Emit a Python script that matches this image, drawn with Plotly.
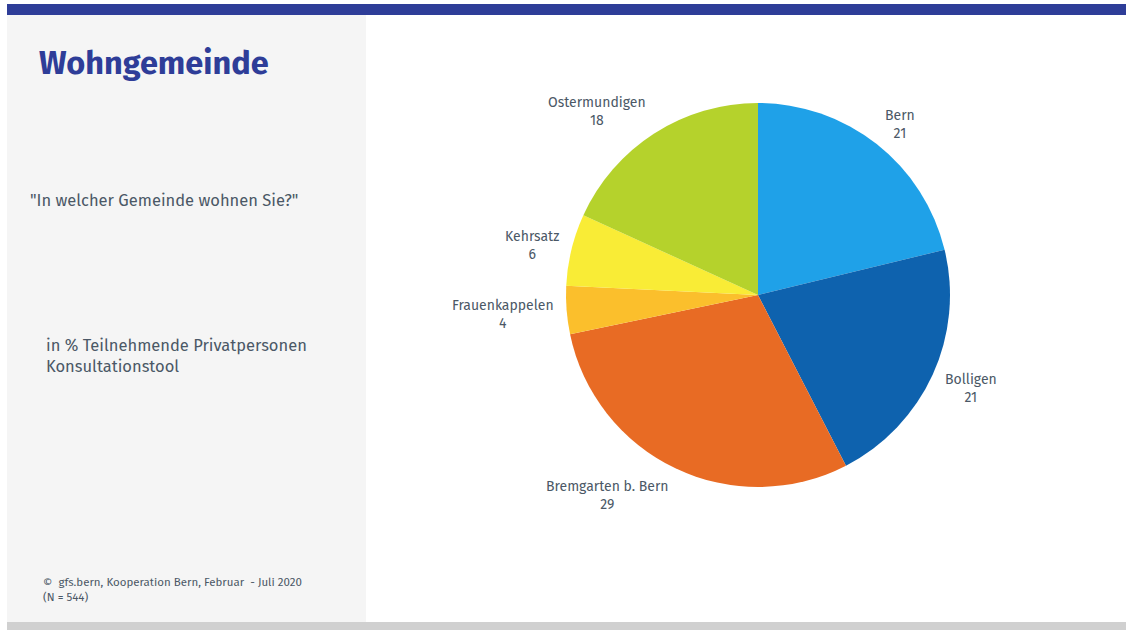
import math
import plotly.graph_objects as go

# Share of participants by municipality (in %)
municipalities = ["Bern", "Bolligen", "Bremgarten b. Bern", "Frauenkappelen", "Kehrsatz", "Ostermundigen"]
shares = [21, 21, 29, 4, 6, 18]
slice_colors = ["#1FA1E8", "#0E62AE", "#E86B24", "#FBBF2C", "#F9EC36", "#B5D22C"]

W, H = 1126, 630
FONT = "Fira Sans, Noto Sans, Roboto, sans-serif"
TEXT_GREY = "#4B5866"

cx, cy, r = 758, 295, 192      # pie centre and radius in pixels
label_dist = 203               # distance of the label anchor from the centre
label_half_h = 17              # half height of a two-line label

fig = go.Figure(go.Pie(
    labels=municipalities,
    values=shares,
    sort=False,
    direction="clockwise",
    rotation=0,
    marker=dict(colors=slice_colors, line=dict(width=0)),
    textinfo="none",
    showlegend=False,
    hoverinfo="label+value",
    domain=dict(x=[(cx - r) / W, (cx + r) / W], y=[1 - (cy + r) / H, 1 - (cy - r) / H]),
))

shapes = [
    # top band
    dict(type="rect", xref="paper", yref="paper", x0=7 / W, x1=1, y0=1 - 15 / H, y1=1 - 4 / H,
         fillcolor="#2E3D98", line=dict(width=0), layer="below"),
    # left side panel
    dict(type="rect", xref="paper", yref="paper", x0=7 / W, x1=366 / W, y0=1 - 622 / H, y1=1 - 15 / H,
         fillcolor="#F5F5F5", line=dict(width=0), layer="below"),
    # bottom band
    dict(type="rect", xref="paper", yref="paper", x0=7 / W, x1=1, y0=0, y1=1 - 622 / H,
         fillcolor="#D0D0D0", line=dict(width=0), layer="below"),
]

def note(x, y, text, size, color=TEXT_GREY, bold=False):
    return dict(xref="paper", yref="paper", x=x / W, y=1 - y / H, xanchor="left", yanchor="middle",
                text=f"<b>{text}</b>" if bold else text, showarrow=False, align="left",
                font=dict(family=FONT, size=size, color=color))

annotations = [
    note(37, 64, "Wohngemeinde", 32.5, color="#2E3D98", bold=True),
    note(28, 200, "\"In welcher Gemeinde wohnen Sie?\"", 16.5),
    note(44, 356, "in % Teilnehmende Privatpersonen<br>Konsultationstool", 16.5),
    note(41, 589, "©  gfs.bern, Kooperation Bern, Februar  - Juli 2020<br>(N = 544)", 11.5),
]

# Outside slice labels, placed at the mid-angle of each slice
total = sum(shares)
cum = 0
for name, val in zip(municipalities, shares):
    theta = (cum + val / 2) / total * 2 * math.pi   # clockwise from 12 o'clock
    cum += val
    s, c = math.sin(theta), math.cos(theta)
    px = cx + label_dist * s
    py = cy - label_dist * c - label_half_h * c + 2
    annotations.append(dict(
        xref="paper", yref="paper", x=px / W, y=1 - py / H,
        xanchor="left" if s >= 0 else "right", yanchor="middle",
        align="center", showarrow=False,
        text=f"{name}<br>{val}",
        font=dict(family=FONT, size=14, color=TEXT_GREY),
    ))

fig.update_layout(
    width=W, height=H,
    margin=dict(l=0, r=0, t=0, b=0),
    paper_bgcolor="white",
    plot_bgcolor="white",
    shapes=shapes,
    annotations=annotations,
)

fig.write_html("out.html")
